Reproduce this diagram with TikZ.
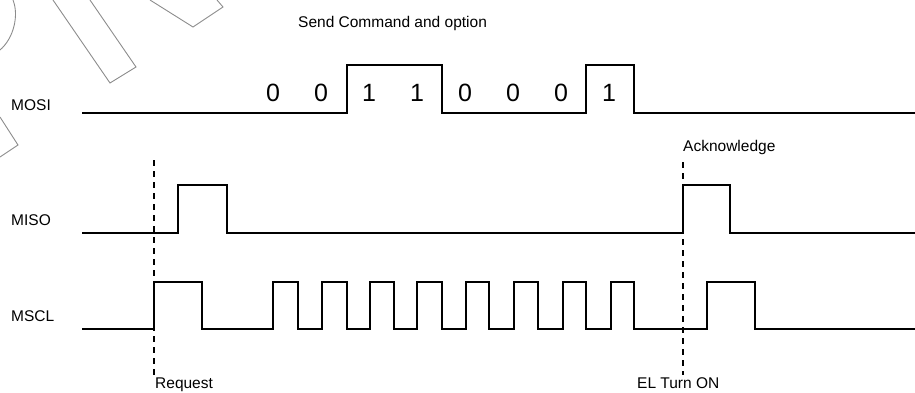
\documentclass[tikz,border=0pt]{standalone}
\usepackage{fontspec}
\setmainfont{Liberation Sans}
\begin{document}
\begin{tikzpicture}[x=1pt,y=-1pt,
  signal/.style={line width=1.9pt,line join=miter},
  marker/.style={line width=1.5pt,dash pattern=on 6pt off 5pt},
  wmark/.style={draw=black!45,line width=0.9pt},
  lbl/.style={anchor=base west,inner sep=0pt,font=\fontsize{15.5}{18}\selectfont},
  bit/.style={anchor=base,inner sep=0pt,font=\fontsize{25}{30}\selectfont}]
\useasboundingbox (0,0) rectangle (915,392);
% watermark outlines
\draw[wmark] (13,0) .. controls (19,15) and (14,38) .. (0,50);
\draw[wmark] (53,0) -- (110,83) -- (136,67) -- (90,0);
\draw[wmark] (150,0) -- (193,27) -- (223,7) -- (217,0);
\draw[wmark] (0,117) -- (18,145) -- (0,157);
% labels
\node[lbl] (title) at (298,27) {Send Command and option};
\node[lbl] (mosi) at (11,110) {MOSI};
\node[lbl] (miso) at (11,225) {MISO};
\node[lbl] (mscl) at (11,321.7) {MSCL};
\node[lbl] (ack) at (683,151.5) {Acknowledge};
\node[lbl] (req) at (155,388) {Request};
\node[lbl] (elon) at (637,388) {EL Turn ON};
% bits
\foreach \b [count=\i from 0] in {0,0,1,1,0,0,0,1}
  \node[bit] (bit\i) at ({273+48*\i},101.7) {\b};
% MOSI
\draw[signal] (82,113) -- (347,113) -- (347,65) -- (442,65) -- (442,113)
  -- (586,113) -- (586,65) -- (634,65) -- (634,113) -- (915,113);
% MISO
\draw[signal] (82,233) -- (178,233) -- (178,185) -- (227,185) -- (227,233)
  -- (683,233) -- (683,185) -- (730,185) -- (730,233) -- (915,233);
% MSCL
\draw[signal] (82,329) -- (154,329) -- (154,282) -- (202,282) -- (202,329)
  -- (273,329) -- (273,282) -- (298,282) -- (298,329)
  -- (322,329) -- (322,282) -- (347,282) -- (347,329)
  -- (370,329) -- (370,282) -- (394,282) -- (394,329)
  -- (417,329) -- (417,282) -- (442,282) -- (442,329)
  -- (466,329) -- (466,282) -- (489,282) -- (489,329)
  -- (514,329) -- (514,282) -- (538,282) -- (538,329)
  -- (563,329) -- (563,282) -- (586,282) -- (586,329)
  -- (611,329) -- (611,282) -- (634,282) -- (634,329)
  -- (707,329) -- (707,282) -- (755,282) -- (755,329) -- (915,329);
% markers
\coordinate (rtop) at (154,160);
\coordinate (rbot) at (154,375);
\coordinate (atop) at (683,162);
\coordinate (abot) at (683,375);
\draw[marker] (rtop) -- (rbot);
\draw[marker] (atop) -- (abot);
\end{tikzpicture}
\end{document}
